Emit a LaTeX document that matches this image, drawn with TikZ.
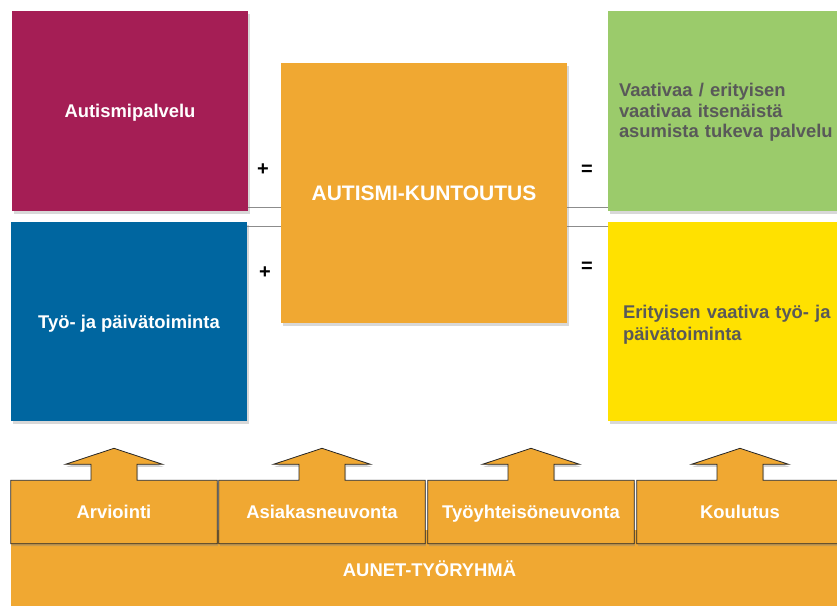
\documentclass[tikz,border=0pt]{standalone}
\usepackage{fontspec}
\setmainfont{Liberation Sans}
\usetikzlibrary{shadows,backgrounds}
\definecolor{cMag}{RGB}{165,30,85}
\definecolor{cBlue}{RGB}{0,102,160}
\definecolor{cOrange}{RGB}{240,168,50}
\definecolor{cGreen}{RGB}{155,203,107}
\definecolor{cYellow}{RGB}{255,225,0}
\definecolor{cText}{RGB}{89,89,89}
\definecolor{cLine}{RGB}{140,140,140}
\tikzset{
  box/.style={rectangle, inner sep=0pt, font=\bfseries\fontsize{18.4}{20}\selectfont,
    drop shadow={shadow xshift=1.5pt, shadow yshift=-2.5pt, opacity=0.3}},
  oneline/.style={text height=13.2pt, text depth=0pt},
  lbl/.style={inner sep=0pt, text=white, font=\bfseries\fontsize{18.4}{20}\selectfont, oneline},
  op/.style={inner sep=0pt, font=\bfseries\fontsize{20}{22}\selectfont},
  sep/.style={draw=cLine, line width=1.3pt},
  block/.style={fill=cOrange, draw=black!85, line width=0.8pt,
    drop shadow={shadow xshift=1pt, shadow yshift=-2.5pt, opacity=0.35}},
  band/.style={fill=cOrange}
}
\begin{document}
\begin{tikzpicture}[x=1pt,y=-1pt]
\useasboundingbox (0,0) rectangle (837,605);
% top boxes
\node[box, oneline, fill=cMag, text=white, minimum width=236pt, minimum height=200pt] (aut) at (130,111) {Autismipalvelu};
\node[box, oneline, fill=cBlue, text=white, minimum width=236pt, minimum height=199pt] (blu) at (129,321.5) {Työ- ja päivätoiminta};
\node[box, fill=cOrange, text=white, minimum width=286pt, minimum height=260pt,
      text height=15pt, text depth=0pt,
      font=\bfseries\fontsize{21}{24}\selectfont] (kun) at (424,193) {AUTISMI-KUNTOUTUS};
\node[box, fill=cGreen, text=cText, minimum width=240pt, minimum height=200pt, inner xsep=11pt,
      text width=218pt, align=left, text height=0pt, text depth=28.6pt,
      font=\bfseries\fontsize{18.4}{20.3}\selectfont] (grn) at (728,111) {Vaativaa / erityisen\\vaativaa itsenäistä\\asumista tukeva palvelu};
\node[box, fill=cYellow, text=cText, minimum width=240pt, minimum height=199pt, inner xsep=15pt,
      text width=210pt, align=left, text height=0pt, text depth=6.4pt,
      font=\bfseries\fontsize{18.4}{22.4}\selectfont] (yel) at (728,321.5) {Erityisen vaativa työ- ja\\päivätoiminta};
% operators
\node[op] (p1) at (263,170) {+};
\node[op] (p2) at (265,273) {+};
\node[op] (e1) at (587,170) {=};
\node[op] (e2) at (587,267) {=};
% bottom labels
\node[lbl, minimum width=206pt, minimum height=63pt] (arv) at (114,512) {Arviointi};
\node[lbl, minimum width=206pt, minimum height=63pt] (asi) at (322,512) {Asiakasneuvonta};
\node[lbl, minimum width=206pt, minimum height=63pt] (tyo) at (531,512) {Työyhteisöneuvonta};
\node[lbl, minimum width=206pt, minimum height=63pt] (kou) at (740,512) {Koulutus};
\node[lbl, minimum width=837pt, minimum height=80pt] (aun) at (429.5,570) {AUNET-TYÖRYHMÄ};
\begin{pgfonlayer}{background}
  \fill[white] (0,0) rectangle (837,605);
  \draw[sep] ([yshift=4pt]aut.south east) -- ([yshift=4pt]aut.south east -| grn.west);
  \draw[sep] ([yshift=-4.5pt]blu.north east) -- ([yshift=-4.5pt]blu.north east -| yel.west);
  \fill[band] (aun.north west) rectangle (aun.south east);
  \foreach \b in {arv,asi,tyo,kou}{
    \draw[block] (\b.south west) -- (\b.north west)
      -- ([xshift=-23pt]\b.north) -- ([xshift=-23pt,yshift=16pt]\b.north)
      -- ([xshift=-48.5pt,yshift=16pt]\b.north) -- ([yshift=32pt]\b.north)
      -- ([xshift=48.5pt,yshift=16pt]\b.north) -- ([xshift=23pt,yshift=16pt]\b.north)
      -- ([xshift=23pt]\b.north) -- (\b.north east) -- (\b.south east) -- cycle;
  }
\end{pgfonlayer}
\end{tikzpicture}
\end{document}
